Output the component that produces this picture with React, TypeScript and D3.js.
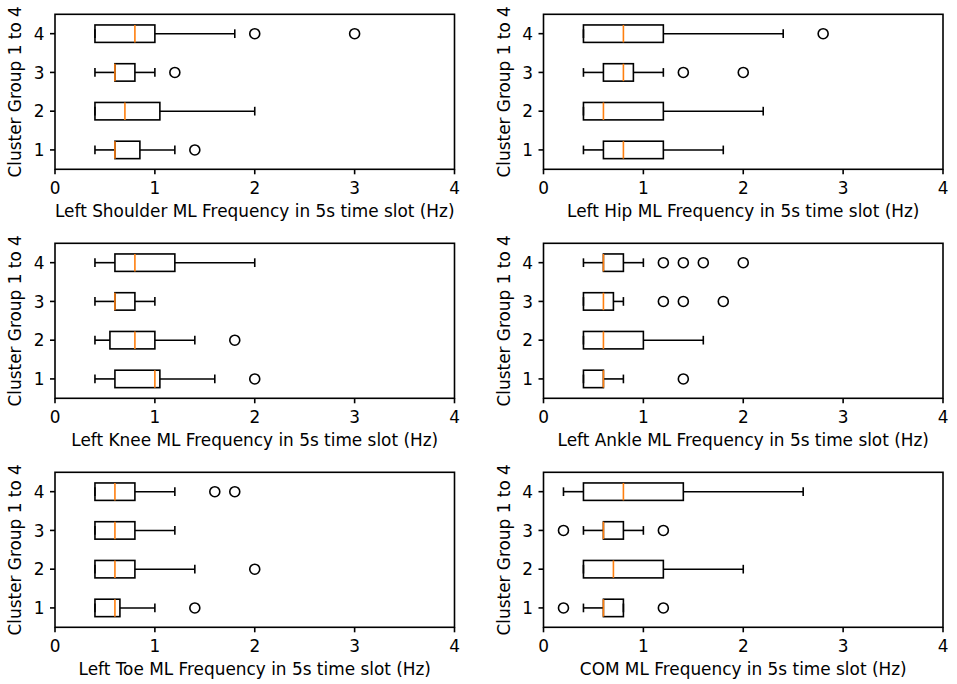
import React from 'react'
import * as d3 from 'd3'

// cluster groups on the y axis, bottom to top
const groups = [1, 2, 3, 4]
const xTicks = [0, 1, 2, 3, 4]

// each box: [whisker low, q1, median, q3, whisker high], listed for group 1..4
const shoulderStats = [[0.4, 0.6, 0.6, 0.85, 1.2], [0.4, 0.4, 0.7, 1.05, 2.0], [0.4, 0.6, 0.6, 0.8, 1.0], [0.4, 0.4, 0.8, 1.0, 1.8]]
const shoulderFliers = [[1.4], [], [1.2], [2.0, 3.0]]

const hipStats = [[0.4, 0.6, 0.8, 1.2, 1.8], [0.4, 0.4, 0.6, 1.2, 2.2], [0.4, 0.6, 0.8, 0.9, 1.2], [0.4, 0.4, 0.8, 1.2, 2.4]]
const hipFliers = [[], [], [1.4, 2.0], [2.8]]

const kneeStats = [[0.4, 0.6, 1.0, 1.05, 1.6], [0.4, 0.55, 0.8, 1.0, 1.4], [0.4, 0.6, 0.6, 0.8, 1.0], [0.4, 0.6, 0.8, 1.2, 2.0]]
const kneeFliers = [[2.0], [1.8], [], []]

const ankleStats = [[0.4, 0.4, 0.6, 0.6, 0.8], [0.4, 0.4, 0.6, 1.0, 1.6], [0.4, 0.4, 0.6, 0.7, 0.8], [0.4, 0.6, 0.6, 0.8, 1.0]]
const ankleFliers = [[1.4], [], [1.2, 1.4, 1.8], [1.2, 1.4, 1.6, 2.0]]

const toeStats = [[0.4, 0.4, 0.6, 0.65, 1.0], [0.4, 0.4, 0.6, 0.8, 1.4], [0.4, 0.4, 0.6, 0.8, 1.2], [0.4, 0.4, 0.6, 0.8, 1.2]]
const toeFliers = [[1.4], [2.0], [], [1.6, 1.8]]

const comStats = [[0.4, 0.6, 0.6, 0.8, 0.8], [0.4, 0.4, 0.7, 1.2, 2.0], [0.4, 0.6, 0.6, 0.8, 1.0], [0.2, 0.4, 0.8, 1.4, 2.6]]
const comFliers = [[0.2, 1.2], [], [0.2, 1.2], []]

const xLabels = [
  'Left Shoulder ML Frequency in 5s time slot (Hz)',
  'Left Hip ML Frequency in 5s time slot (Hz)',
  'Left Knee ML Frequency in 5s time slot (Hz)',
  'Left Ankle ML Frequency in 5s time slot (Hz)',
  'Left Toe ML Frequency in 5s time slot (Hz)',
  'COM ML Frequency in 5s time slot (Hz)',
]
const yLabel = 'Cluster Group 1 to 4'

const panels = [
  { stats: shoulderStats, fliers: shoulderFliers },
  { stats: hipStats, fliers: hipFliers },
  { stats: kneeStats, fliers: kneeFliers },
  { stats: ankleStats, fliers: ankleFliers },
  { stats: toeStats, fliers: toeFliers },
  { stats: comStats, fliers: comFliers },
]

const W = 957
const H = 684
const colLeft = [55, 543.5]
const plotW = 399.5
const rowTop = [14.3, 243.3, 472.3]
const plotH = 155
const FONT = '"DejaVu Sans", sans-serif'
const FS = 16.9
const LW = 1.6
const TICK = 5
const BOX_HALF = 0.225

function Panel({ left, top, stats, fliers, label }: any) {
  const x = d3.scaleLinear().domain([0, 4]).range([left, left + plotW])
  const y = d3.scaleLinear().domain([0.5, 4.5]).range([top + plotH, top])
  const bottom = top + plotH

  return (
    <g>
      {groups.map((g, i) => {
        const [lo, q1, med, q3, hi] = stats[i]
        const y0 = y(g + BOX_HALF)
        const y1 = y(g - BOX_HALF)
        const yc = y(g)
        const capA = y(g + BOX_HALF / 2)
        const capB = y(g - BOX_HALF / 2)
        return (
          <g key={g} stroke="#000" strokeWidth={LW} fill="none">
            <line x1={x(lo)} x2={x(q1)} y1={yc} y2={yc} />
            <line x1={x(q3)} x2={x(hi)} y1={yc} y2={yc} />
            <line x1={x(lo)} x2={x(lo)} y1={capA} y2={capB} />
            <line x1={x(hi)} x2={x(hi)} y1={capA} y2={capB} />
            <rect x={x(q1)} y={y0} width={x(q3) - x(q1)} height={y1 - y0} />
            <line x1={x(med)} x2={x(med)} y1={y0} y2={y1} stroke="#ff7f0e" />
            {fliers[i].map((f: number, j: number) => (
              <circle key={j} cx={x(f)} cy={yc} r={5} />
            ))}
          </g>
        )
      })}
      <rect x={left} y={top} width={plotW} height={plotH} fill="none" stroke="#000" strokeWidth={LW} />
      {xTicks.map((t) => (
        <g key={t}>
          <line x1={x(t)} x2={x(t)} y1={bottom} y2={bottom + TICK} stroke="#000" strokeWidth={LW} />
          <text x={x(t)} y={bottom + 24.5} textAnchor="middle" fontFamily={FONT} fontSize={FS} fill="#000">{t}</text>
        </g>
      ))}
      {groups.map((g) => (
        <g key={g}>
          <line x1={left - TICK} x2={left} y1={y(g)} y2={y(g)} stroke="#000" strokeWidth={LW} />
          <text x={left - 10.5} y={y(g)} dy="0.36em" textAnchor="end" fontFamily={FONT} fontSize={FS} fill="#000">{g}</text>
        </g>
      ))}
      <text x={left + plotW / 2} y={bottom + 47.5} textAnchor="middle" fontFamily={FONT} fontSize={FS} fill="#000">{label}</text>
      <text
        transform={`translate(${left - 34},${top + plotH / 2}) rotate(-90)`}
        textAnchor="middle"
        fontFamily={FONT}
        fontSize={FS}
        fill="#000"
      >
        {yLabel}
      </text>
    </g>
  )
}

export default function App() {
  return (
    <svg width={W} height={H} style={{ position: 'absolute', left: 0, top: 0, background: '#fff' }}>
      <rect width={W} height={H} fill="#fff" />
      {panels.map((p, i) => (
        <Panel
          key={i}
          left={colLeft[i % 2]}
          top={rowTop[Math.floor(i / 2)]}
          stats={p.stats}
          fliers={p.fliers}
          label={xLabels[i]}
        />
      ))}
    </svg>
  )
}
